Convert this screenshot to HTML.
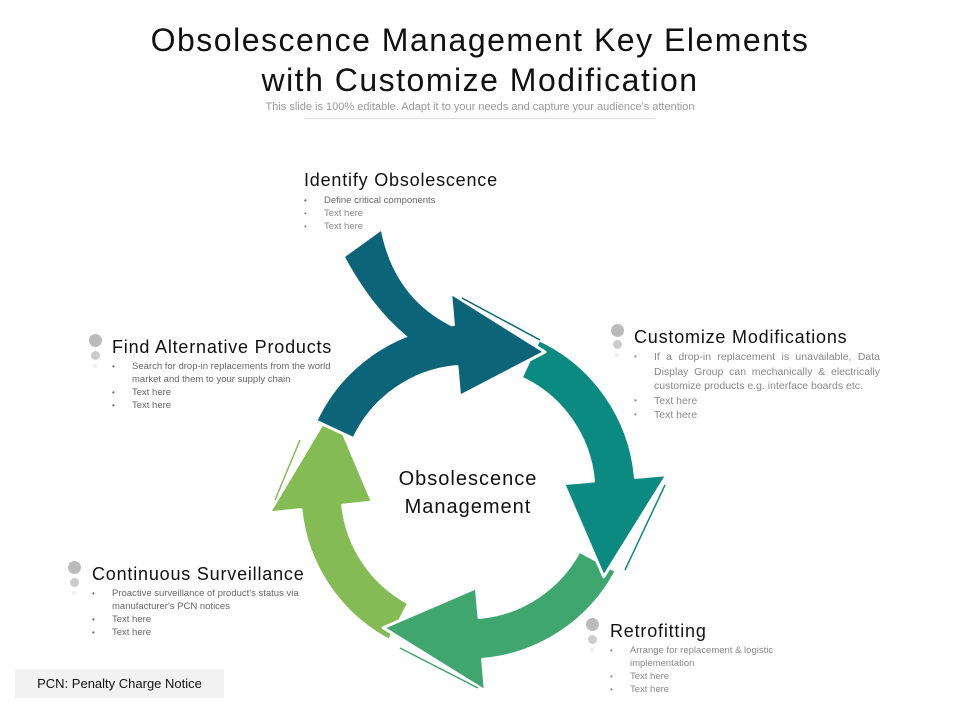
<!DOCTYPE html>
<html><head><meta charset="utf-8"><style>
body{margin:0;background:#fff;}
#w{position:relative;width:960px;height:720px;overflow:hidden;font-family:"Liberation Sans",sans-serif;}
.a{position:absolute;}
.t{font-size:32px;letter-spacing:1.5px;color:#111;text-align:center;width:960px;left:0;line-height:40px;}
.h{font-size:18px;letter-spacing:0.8px;color:#111;white-space:nowrap;}
ul{margin:0;padding:0;list-style:none;}
li{position:relative;padding-left:20px;font-size:9.5px;line-height:13px;color:#888;}
li:before{content:"•";position:absolute;left:0;font-size:8px;}
.d{position:absolute;border-radius:50%;background:#bbb;}
</style></head><body><div id="w">
<div class="a t" style="top:20px">Obsolescence Management Key Elements<br>with Customize Modification</div>
<div class="a" style="top:101px;left:0;width:960px;text-align:center;font-size:11px;color:#999">This slide is 100% editable. Adapt it to your needs and capture your audience's attention</div>
<div class="a" style="top:118px;left:305px;width:350px;height:1px;background:#ddd"></div>

<svg class="a" style="left:0;top:0" width="960" height="720">
<g stroke="#fff" stroke-width="3" stroke-linejoin="round">
<path fill="#84bb54" d="M389.1,640.3 A168 168 0 0 1 300.9,509.6 L269.1,512.9 L332.3,407.2 L372.5,502 L342.7,505.2 A126 126 0 0 0 408.8,603.2 Z"/>
<path fill="#3fa66f" d="M616.3,570.9 A168 168 0 0 1 482.6,659.4 L485.4,691.2 L383.2,627.7 L476.4,587.6 L479,617.5 A126 126 0 0 0 579.2,551.2 Z"/>
<path fill="#0a8a80" d="M539,339.7 A168 168 0 0 1 635.4,477.4 L667.2,474.6 L603.7,576.8 L563.6,483.6 L593.5,481 A126 126 0 0 0 521.2,377.8 Z"/>
<path fill="#0b6477" d="M315.8,421 A168 168 0 0 1 453.4,324.6 L450.6,292.8 L545,352 L459.6,396.4 L457,366.5 A126 126 0 0 0 353.8,438.7 Z"/>
</g>
<path fill="#0b6477" d="M345,257 L381,231 Q395,300 455,328 L452,362 Q390,340 345,257 Z"/>
<line x1="462" y1="298" x2="540" y2="340" stroke="#0b6477" stroke-width="1.5"/>
<line x1="665" y1="485" x2="625" y2="570" stroke="#0a8a80" stroke-width="1.5"/>
<line x1="400" y1="648" x2="478" y2="688" stroke="#3fa66f" stroke-width="1.5"/>
<line x1="300" y1="440" x2="275" y2="500" stroke="#84bb54" stroke-width="1.5"/>
</svg>

<div class="a" style="left:370px;top:465px;width:196px;text-align:center;font-size:20px;letter-spacing:1px;line-height:28px;color:#111">Obsolescence<br>Management</div>

<div class="a h" style="left:304px;top:170px">Identify Obsolescence</div>
<ul class="a" style="left:304px;top:194px;width:220px"><li style="color:#666">Define critical components</li><li>Text here</li><li>Text here</li></ul>

<div class="d" style="left:611px;top:324px;width:13px;height:13px"></div><div class="d" style="left:613px;top:340px;width:9px;height:9px;background:#ccc"></div><div class="d" style="left:615px;top:353px;width:4px;height:4px;background:#eee"></div>
<div class="a h" style="left:634px;top:327px">Customize Modifications</div>
<ul class="a" style="left:634px;top:350px;width:246px"><li style="text-align:justify;font-size:10.5px;line-height:14.5px">If a drop-in replacement is unavailable, Data Display Group can mechanically &amp; electrically customize products e.g. interface boards etc.</li><li style="font-size:10.5px;line-height:14.5px">Text here</li><li style="font-size:10.5px;line-height:14.5px">Text here</li></ul>

<div class="d" style="left:89px;top:334px;width:13px;height:13px"></div><div class="d" style="left:91px;top:351px;width:9px;height:9px;background:#ccc"></div><div class="d" style="left:93px;top:364px;width:4px;height:4px;background:#eee"></div>
<div class="a h" style="left:112px;top:337px">Find Alternative Products</div>
<ul class="a" style="left:112px;top:360px;width:235px"><li style="color:#666">Search for drop-in replacements from the world market and them to your supply chain</li><li style="color:#666">Text here</li><li style="color:#666">Text here</li></ul>

<div class="d" style="left:68px;top:561px;width:13px;height:13px"></div><div class="d" style="left:70px;top:578px;width:9px;height:9px;background:#ccc"></div><div class="d" style="left:72px;top:591px;width:4px;height:4px;background:#eee"></div>
<div class="a h" style="left:92px;top:564px">Continuous Surveillance</div>
<ul class="a" style="left:92px;top:587px;width:225px"><li style="color:#666">Proactive surveillance of product's status via manufacturer's PCN notices</li><li style="color:#666">Text here</li><li style="color:#666">Text here</li></ul>

<div class="d" style="left:586px;top:618px;width:13px;height:13px"></div><div class="d" style="left:588px;top:635px;width:9px;height:9px;background:#ccc"></div><div class="d" style="left:590px;top:648px;width:4px;height:4px;background:#eee"></div>
<div class="a h" style="left:610px;top:621px">Retrofitting</div>
<ul class="a" style="left:610px;top:644px;width:200px"><li>Arrange for replacement &amp; logistic implementation</li><li>Text here</li><li>Text here</li></ul>

<div class="a" style="left:15px;top:669px;width:209px;height:29px;background:#f2f2f2;font-size:13px;line-height:29px;color:#111;text-align:center">PCN: Penalty Charge Notice</div>
</div></body></html>
